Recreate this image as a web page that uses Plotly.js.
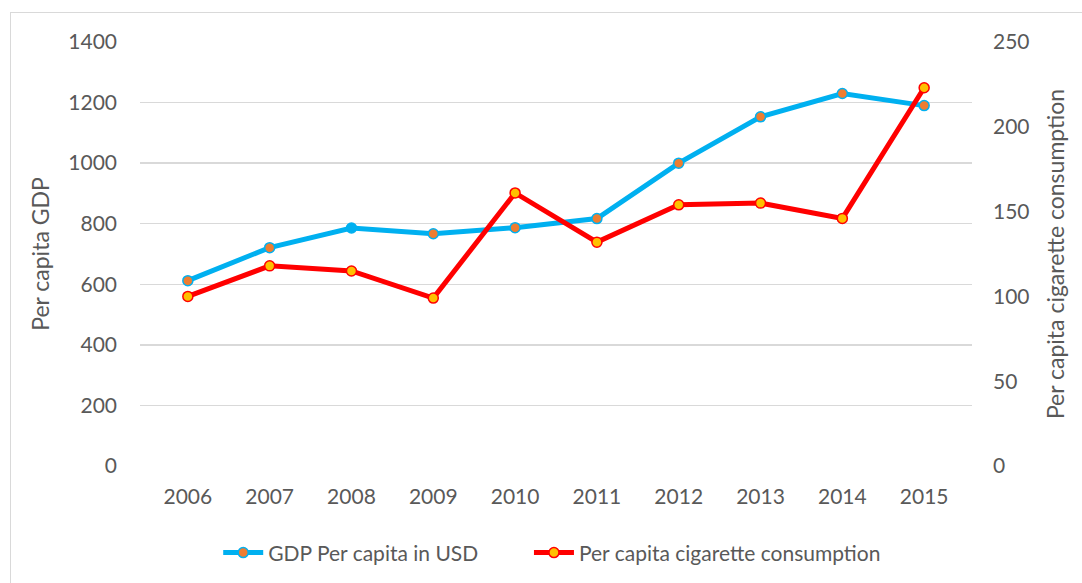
<!DOCTYPE html>
<html>
<head>
<meta charset="utf-8">
<script src="https://cdn.plot.ly/plotly-3.0.1.min.js"></script>
<style>
html,body{margin:0;padding:0;background:#fff;}
#chart{position:absolute;left:0;top:0;width:1082px;height:583px;}
#frame{position:absolute;left:10px;top:12px;width:1100px;height:600px;border:1px solid #d9d9d9;pointer-events:none;}
</style>
</head>
<body>
<div id="chart"></div>
<div id="frame"></div>
<script>
const years = ['2006','2007','2008','2009','2010','2011','2012','2013','2014','2015'];
const gdpPerCapita = [612, 721, 786, 767, 787, 817, 1000, 1153, 1230, 1190];
const cigarettePerCapita = [100, 118, 115, 99, 161, 132, 154, 155, 146, 223];
const gdpName = 'GDP Per capita in USD';
const cigName = 'Per capita cigarette consumption';

const fontFam = 'Lato, "Open Sans", sans-serif';
const grey = '#595959';

const traces = [
  {
    x: years, y: gdpPerCapita, name: gdpName, type: 'scatter', mode: 'lines+markers',
    line: {color: '#00B0F0', width: 5},
    marker: {size: 10, color: years.map(y => y === '2008' ? '#00B0F0' : '#ED7D31'), line: {color: '#00B0F0', width: 1.5}},
    yaxis: 'y', legend: 'legend'
  },
  {
    x: years, y: cigarettePerCapita, name: cigName, type: 'scatter', mode: 'lines+markers',
    line: {color: '#FF0000', width: 5},
    marker: {size: 10, color: '#FFC000', line: {color: '#FF0000', width: 1.5}},
    yaxis: 'y2', legend: 'legend2'
  }
];

const legendBase = {orientation: 'h', xanchor: 'left', y: -0.205, yanchor: 'middle',
                    font: {size: 21, color: grey}, itemwidth: 40, bgcolor: 'rgba(0,0,0,0)'};

const layout = {
  width: 1082, height: 583,
  margin: {l: 140, r: 110, t: 42, b: 117, autoexpand: false},
  paper_bgcolor: '#fff', plot_bgcolor: '#fff',
  font: {family: fontFam, size: 21, color: grey},
  showlegend: true,
  legend: Object.assign({}, legendBase, {x: 0.094}),
  legend2: Object.assign({}, legendBase, {x: 0.4675}),
  xaxis: {
    type: 'category', showgrid: false, zeroline: false, showline: false, ticks: '',
    tickfont: {size: 21, color: grey}, ticklabelstandoff: 16
  },
  yaxis: {
    range: [0, 1400], dtick: 200, showgrid: true, gridcolor: '#d9d9d9', gridwidth: 1.5,
    zeroline: false, showline: false, ticks: '', ticklabelstandoff: 22,
    tickfont: {size: 21, color: grey},
    title: {text: 'Per capita GDP', font: {size: 23, color: grey}, standoff: 12}
  },
  yaxis2: {
    range: [0, 250], dtick: 50, overlaying: 'y', side: 'right', showgrid: false,
    zeroline: false, showline: false, ticks: '', ticklabelstandoff: 20,
    tickfont: {size: 21, color: grey},
    title: {text: 'Per capita cigarette consumption', font: {size: 23, color: grey}, standoff: 19}
  }
};

Plotly.newPlot('chart', traces, layout, {displayModeBar: false, staticPlot: true});
</script>
</body>
</html>
